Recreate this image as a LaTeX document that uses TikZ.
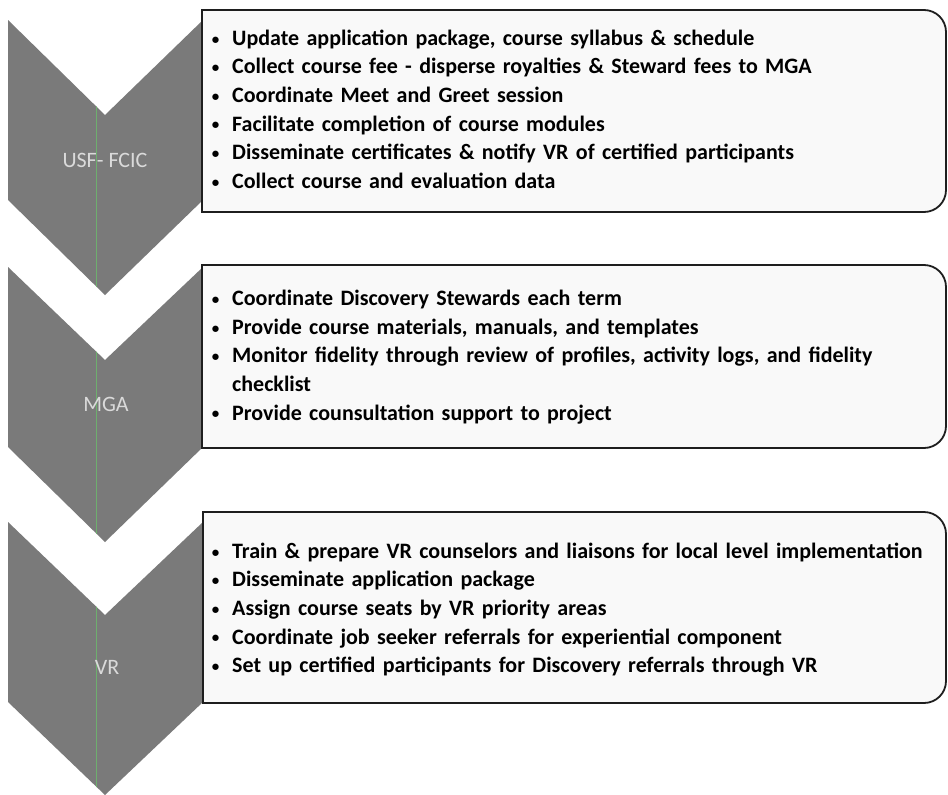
\documentclass[tikz,border=0pt]{standalone}
\usepackage{fontspec}
\setmainfont{Carlito}
\definecolor{chevgray}{RGB}{122,122,122}
\definecolor{labelgray}{RGB}{218,218,218}
\definecolor{boxfill}{RGB}{249,249,249}
\definecolor{boxline}{RGB}{30,30,30}
\definecolor{guide}{RGB}{110,175,110}
% one bullet item with a hanging indent and a small bullet
\newcommand{\bulitem}[1]{\par\hangindent=16.5pt\hangafter=1\noindent
  \makebox[16.5pt][l]{\makebox[0pt][c]{\raisebox{1.2pt}{\fontsize{15}{15}\selectfont •}}}#1}
\begin{document}
\begin{tikzpicture}[x=1pt,y=-1pt,
  chevron/.style={fill=chevgray},
  chevlabel/.style={text=labelgray,font=\fontsize{22}{24}\selectfont,inner sep=0pt},
  panel/.style={draw=boxline,line width=1.8pt,fill=boxfill},
  itemtext/.style={anchor=west,inner sep=0pt,text width=730pt,align=left,
    font=\bfseries\fontsize{22}{28.6}\selectfont}]
\useasboundingbox[fill=white] (0,0) rectangle (948,795);

% downward chevrons
\fill[chevron] (8,20) -- (105,115) -- (203,20) -- (203,200) -- (105,295) -- (8,200) -- cycle;
\fill[chevron] (8,267) -- (105,360) -- (203,267) -- (203,447) -- (105,542) -- (8,447) -- cycle;
\fill[chevron] (8,522) -- (105,615) -- (203,522) -- (203,702) -- (105,795) -- (8,702) -- cycle;

% thin green guide line running through the chevrons
\begin{scope}
\clip (8,20) -- (105,115) -- (203,20) -- (203,200) -- (105,295) -- (8,200) -- cycle
      (8,267) -- (105,360) -- (203,267) -- (203,447) -- (105,542) -- (8,447) -- cycle
      (8,522) -- (105,615) -- (203,522) -- (203,702) -- (105,795) -- (8,702) -- cycle;
\draw[guide,line width=0.7pt] (96,0) -- (96,795);
\end{scope}

\node[chevlabel] (labA) at (105,160) {USF- FCIC};
\node[chevlabel] (labB) at (106,404) {MGA};
\node[chevlabel] (labC) at (107,667) {VR};

% panels: square on the left, rounded on the right
\draw[panel] (202,10) -- (924,10) .. controls (936.15,10) and (946,19.85) .. (946,32)
  -- (946,190) .. controls (946,202.15) and (936.15,212) .. (924,212) -- (202,212) -- cycle;
\draw[panel] (202,265) -- (924,265) .. controls (936.15,265) and (946,274.85) .. (946,287)
  -- (946,426) .. controls (946,438.15) and (936.15,448) .. (924,448) -- (202,448) -- cycle;
\draw[panel] (203,512) -- (924,512) .. controls (936.15,512) and (946,521.85) .. (946,534)
  -- (946,681) .. controls (946,693.15) and (936.15,703) .. (924,703) -- (203,703) -- cycle;

\node[itemtext] (listA) at (215.5,102.5) {%
\bulitem{Update application package, course syllabus \& schedule}
\bulitem{Collect course fee - disperse royalties \& Steward fees to MGA}
\bulitem{Coordinate Meet and Greet session}
\bulitem{Facilitate completion of course modules}
\bulitem{Disseminate certificates \& notify VR of certified participants}
\bulitem{Collect course and evaluation data}};

\node[itemtext] (listB) at (215.5,350.5) {%
\bulitem{Coordinate Discovery Stewards each term}
\bulitem{Provide course materials, manuals, and templates}
\bulitem{Monitor fidelity through review of profiles, activity logs, and fidelity\newline checklist}
\bulitem{Provide counsultation support to project}};

\node[itemtext] (listC) at (215.5,603) {%
\bulitem{Train \& prepare VR counselors and liaisons for local level implementation}
\bulitem{Disseminate application package}
\bulitem{Assign course seats by VR priority areas}
\bulitem{Coordinate job seeker referrals for experiential component}
\bulitem{Set up certified participants for Discovery referrals through VR}};
\end{tikzpicture}
\end{document}
